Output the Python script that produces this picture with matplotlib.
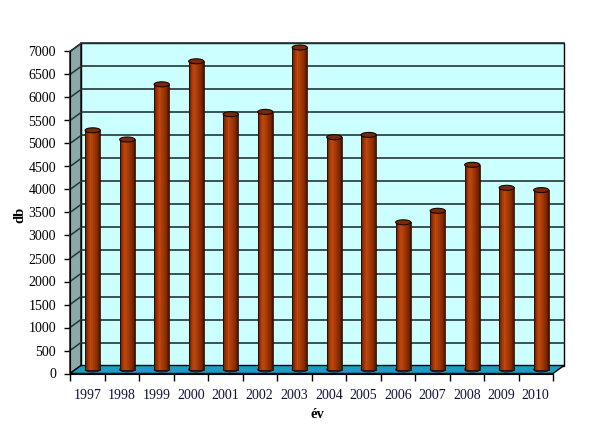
import matplotlib
matplotlib.use("Agg")
import matplotlib.pyplot as plt
import numpy as np
from matplotlib.patches import Polygon, Rectangle, Ellipse
from matplotlib.colors import LinearSegmentedColormap

years = ["1997", "1998", "1999", "2000", "2001", "2002", "2003",
         "2004", "2005", "2006", "2007", "2008", "2009", "2010"]
values = [5200, 5000, 6200, 6700, 5550, 5600, 7000,
          5050, 5100, 3200, 3450, 4450, 3950, 3900]
yticks = list(range(0, 7001, 500))
xlabel = "év"
ylabel = "db"

W, H = 602, 434
fig = plt.figure(figsize=(W / 100, H / 100), dpi=100)
fig.patch.set_facecolor("white")
L, R, B, T = 70, 553, 373.5, 51.5
ax = fig.add_axes([L / W, (H - B) / H, (R - L) / W, (B - T) / H])
n = len(years)
ax.set_xlim(-0.5, n - 0.5)
ax.set_ylim(0, 7000)
ax.patch.set_visible(False)

px_cat = (R - L) / n
px_val = (B - T) / 7000
dxd = 11 / px_cat
dyd = 8 / px_val
x0, x1 = -0.5, n - 0.5
ymax = 7000

wall_c = "#CCFFFF"
side_c = "#8CA8A8"
floor_c = "#1C9CC6"
grid_c = "#263636"

# back wall
ax.add_patch(Rectangle((x0 + dxd, dyd), x1 - x0, ymax, facecolor=wall_c,
                       edgecolor="black", lw=1.0, clip_on=False, zorder=1))
# side wall
ax.add_patch(Polygon([(x0, 0), (x0, ymax), (x0 + dxd, ymax + dyd), (x0 + dxd, dyd)],
                     closed=True, facecolor=side_c, edgecolor="black", lw=1.0,
                     clip_on=False, zorder=2))
# gridlines
for t in yticks[1:]:
    ax.plot([x0 + dxd, x1 + dxd], [t + dyd, t + dyd], color=grid_c, lw=1.2,
            clip_on=False, zorder=1.5)
    ax.plot([x0, x0 + dxd], [t, t + dyd], color=grid_c, lw=1.1,
            clip_on=False, zorder=2.5)
# floor
ax.add_patch(Polygon([(x0, 0), (x1, 0), (x1 + dxd, dyd), (x0 + dxd, dyd)],
                     closed=True, facecolor=floor_c, edgecolor="black", lw=1.0,
                     clip_on=False, zorder=3))

# bars (cylinders)
bw = 0.44
xs = np.arange(n) + dxd / 2
base = dyd / 2
cmap = LinearSegmentedColormap.from_list(
    "cyl", [(0, "#4A1500"), (0.12, "#8A2A00"), (0.35, "#C04810"),
            (0.6, "#A03806"), (0.85, "#7C2600"), (1, "#3E1200")])
ell_h = 5 / px_val
ax_z = 4
for x in xs:
    ax.add_patch(Ellipse((x, base), bw, ell_h, facecolor="#6A2000",
                         edgecolor="#2a0a00", lw=0.6, clip_on=False, zorder=ax_z))
ns = 24
sw = bw / ns
for k in range(ns):
    c = cmap((k + 0.5) / ns)
    ax.bar(xs - bw / 2 + (k + 0.5) * sw, values, width=sw * 1.02, bottom=base,
           color=c, linewidth=0, clip_on=False, zorder=ax_z + 0.1)
ax.bar(xs, values, width=bw, bottom=base, fill=False, edgecolor="#2a0a00",
       linewidth=0.6, clip_on=False, zorder=ax_z + 0.2)
for x, v in zip(xs, values):
    ax.add_patch(Ellipse((x, v + base), bw, ell_h, facecolor="#7A2A08",
                         edgecolor="#1a0500", lw=0.8, clip_on=False, zorder=ax_z + 0.3))

# axes styling
for s in ["top", "right"]:
    ax.spines[s].set_visible(False)
ax.spines["left"].set_zorder(5)
ax.spines["bottom"].set_zorder(5)
font = "Liberation Serif"
ax.set_yticks(yticks)
ax.set_yticklabels([str(t) for t in yticks], fontfamily=font, fontsize=10)
ax.tick_params(axis="y", direction="out", length=4, width=1, pad=6)
ax.set_xticks(np.arange(n))
ax.set_xticklabels(years, fontfamily=font, fontsize=10, color="#10103a")
ax.set_xticks(np.arange(n + 1) - 0.5, minor=True)
ax.tick_params(axis="x", which="major", length=0, pad=11)
ax.tick_params(axis="x", which="minor", direction="out", length=5, width=1)
ax.set_xlabel(xlabel, fontfamily=font, fontsize=10.5, fontweight="bold")
ax.set_ylabel(ylabel, fontfamily=font, fontsize=10.5, fontweight="bold")
ax.xaxis.set_label_coords((317 - L) / (R - L), (B - 414) / (B - T))
ax.yaxis.set_label_coords((20 - L) / (R - L), (B - 215) / (B - T))
ax.xaxis.label.set_va("center")
ax.yaxis.label.set_va("center")

fig.savefig("out.png", dpi=100)
